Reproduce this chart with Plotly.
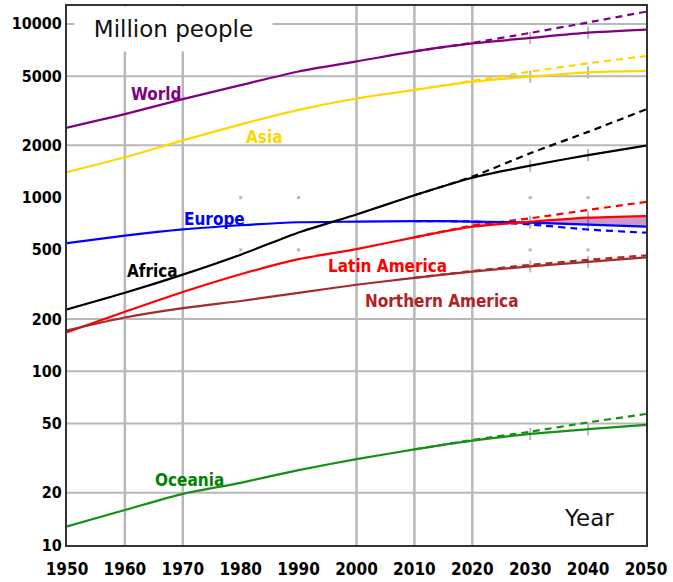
import math
import plotly.graph_objects as go

# ---- data (million people) ----
years = [1950, 1960, 1970, 1980, 1990, 2000, 2010, 2020, 2030, 2040, 2050]
proj_years = [2010, 2020, 2030, 2040, 2050]

world = [2529, 3023, 3686, 4438, 5320, 6080, 6950, 7720, 8300, 8900, 9270]
asia = [1403, 1708, 2135, 2638, 3199, 3720, 4170, 4650, 4970, 5260, 5360]
europe = [547, 604, 656, 693, 721, 727, 733, 728, 718, 698, 680]
africa = [227, 283, 360, 469, 630, 800, 1031, 1300, 1527, 1757, 1990]
latin_america = [168, 220, 286, 362, 442, 505, 590, 680, 726, 766, 783]
northern_america = [172, 204, 231, 254, 283, 315, 345, 375, 402, 426, 453]
oceania = [12.8, 15.9, 19.7, 22.8, 27.0, 31.2, 35.5, 39.9, 43.6, 46.4, 49.1]

# constant-fertility projections (dashed)
world_cf = [6950, 7780, 8870, 10200, 11750]
asia_cf = [4170, 4700, 5310, 5930, 6530]
europe_cf = [733, 728, 700, 655, 628]
africa_cf = [1031, 1320, 1800, 2390, 3220]
latin_america_cf = [590, 690, 760, 849, 944]
northern_america_cf = [345, 378, 410, 438, 465]
oceania_cf = [35.5, 40.2, 44.9, 50.8, 56.8]

x_ticks = list(range(1950, 2051, 10))
y_ticks = [10, 20, 50, 100, 200, 500, 1000, 2000, 5000, 10000]
y_tick_text = [str(v) for v in y_ticks]

grid_years = [1960, 1970, 2000, 2010, 2020]
grid_values = [20, 50, 100, 200, 2000, 5000, 10000]
dot_years = [1980, 1990, 2030, 2040]
dot_values = [500, 1000]
marker_years = [2030, 2040]

Y_BOTTOM = 10
Y_TOP = 10 ** 4.103
X_MIN, X_MAX = 1950, 2050

series = [
    ("World", world, world_cf, "#800080"),
    ("Asia", asia, asia_cf, "#ffd700"),
    ("Europe", europe, europe_cf, "#0000ff"),
    ("Africa", africa, africa_cf, "#000000"),
    ("Latin America", latin_america, latin_america_cf, "#ff0000"),
    ("Northern America", northern_america, northern_america_cf, "#a52a2a"),
    ("Oceania", oceania, oceania_cf, "#159015"),
]

GRID = "#b8b8b8"
FONT = "DejaVu Sans Condensed, DejaVu Sans, sans-serif"

fig = go.Figure()

# grid lines
gx, gy = [], []
for yr in grid_years:
    gx += [yr, yr, None]
    gy += [Y_BOTTOM, Y_TOP, None]
fig.add_trace(go.Scatter(x=gx, y=gy, mode="lines", line=dict(color=GRID, width=2.5),
                         hoverinfo="skip", showlegend=False))
hx, hy = [], []
for v in grid_values:
    hx += [X_MIN, X_MAX, None]
    hy += [v, v, None]
fig.add_trace(go.Scatter(x=hx, y=hy, mode="lines", line=dict(color=GRID, width=2),
                         hoverinfo="skip", showlegend=False))

# sparse grid dots
dx = [yr for yr in dot_years for _ in dot_values]
dy = [v for _ in dot_years for v in dot_values]
fig.add_trace(go.Scatter(x=dx, y=dy, mode="markers",
                         marker=dict(color=GRID, size=3, symbol="square"),
                         hoverinfo="skip", showlegend=False))

# small decade ticks across each projection
span = 0.035
for name, vals, cf, color in series:
    mv = [vals[years.index(yr)] for yr in marker_years]
    fig.add_trace(go.Scatter(
        x=marker_years, y=mv, mode="markers", marker=dict(size=1, opacity=0),
        error_y=dict(type="data", symmetric=False,
                     array=[v * (10 ** span - 1) for v in mv],
                     arrayminus=[v * (1 - 10 ** -span) for v in mv],
                     color=GRID, thickness=2, width=0),
        hoverinfo="skip", showlegend=False))

# shaded band where Latin America overtakes Europe
i0 = years.index(2020)
fig.add_trace(go.Scatter(x=years[i0:], y=europe[i0:], mode="lines",
                         line=dict(width=0, shape="spline", smoothing=0.6),
                         hoverinfo="skip", showlegend=False))
fig.add_trace(go.Scatter(x=years[i0:], y=latin_america[i0:], mode="lines",
                         line=dict(width=0, shape="spline", smoothing=0.6), fill="tonexty",
                         fillcolor="rgba(128,0,128,0.4)",
                         hoverinfo="skip", showlegend=False))

# dashed projections
for name, vals, cf, color in series:
    fig.add_trace(go.Scatter(x=proj_years, y=cf, mode="lines", name=name + " (constant fertility)",
                             line=dict(color=color, width=2.2, dash="7px,5px",
                                       shape="spline", smoothing=0.6),
                             showlegend=False))
# solid series
for name, vals, cf, color in series:
    fig.add_trace(go.Scatter(x=years, y=vals, mode="lines", name=name,
                             line=dict(color=color, width=2.2, shape="spline", smoothing=0.6),
                             showlegend=False))

# series labels (paper coordinates)
labels = [
    ("World", 0.1538, 0.8367, "#800080"),
    ("Asia", 0.3404, 0.757, "#ffd700"),
    ("Europe", 0.254, 0.6048, "#0000ff"),
    ("Africa", 0.1469, 0.5083, "#000000"),
    ("Latin America", 0.5538, 0.5176, "#ff0000"),
    ("Northern America", 0.648, 0.4527, "#b22222"),
    ("Oceania", 0.2108, 0.1206, "#008000"),
]
for text, px, py, color in labels:
    fig.add_annotation(x=px, y=py, xref="paper", yref="paper", text=text,
                       showarrow=False, xanchor="center", yanchor="middle",
                       font=dict(family=FONT, size=17, color=color, weight="bold"))

fig.add_annotation(x=0.184, y=0.9573, xref="paper", yref="paper", text="Million people",
                   showarrow=False, xanchor="center", yanchor="middle",
                   width=197, height=44, borderpad=0, bgcolor="white",
                   font=dict(family="DejaVu Sans", size=23, color="#111111"))
fig.add_annotation(x=0.9012, y=0.051, xref="paper", yref="paper", text="Year",
                   showarrow=False, xanchor="center", yanchor="middle",
                   font=dict(family="DejaVu Sans", size=23, color="#111111"))

fig.update_layout(
    width=673, height=582,
    margin=dict(l=67, r=27, t=6, b=37, autoexpand=False),
    paper_bgcolor="white", plot_bgcolor="white",
    showlegend=False,
    xaxis=dict(range=[X_MIN, X_MAX], tickvals=x_ticks, ticks="", showgrid=False,
               zeroline=False, showline=True, linecolor="#333333", linewidth=2, mirror=True,
               ticklabelstandoff=8, automargin=False,
               tickfont=dict(family=FONT, size=17, color="#000000", weight="bold")),
    yaxis=dict(type="log", range=[math.log10(Y_BOTTOM), math.log10(Y_TOP)],
               tickvals=y_ticks, ticktext=y_tick_text, ticks="", showgrid=False,
               zeroline=False, showline=True, linecolor="#333333", linewidth=2, mirror=True,
               automargin=False,
               tickfont=dict(family=FONT, size=16, color="#000000", weight="bold")),
)

fig.write_html("out.html")
